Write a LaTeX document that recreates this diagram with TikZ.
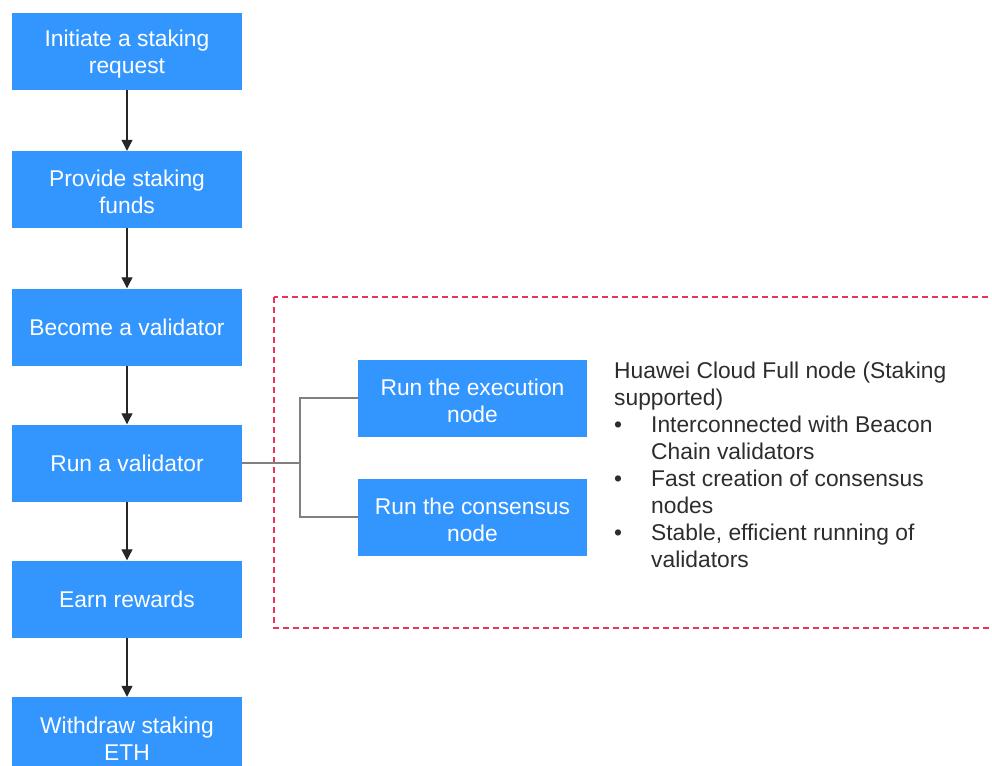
\documentclass[tikz,border=0pt]{standalone}
\usepackage{fontspec}
\setmainfont{Liberation Sans}
\usepackage{xcolor}
\usetikzlibrary{arrows.meta}
\definecolor{boxblue}{RGB}{51,150,255}
\definecolor{dashred}{RGB}{234,51,86}
\definecolor{txtgray}{RGB}{45,45,45}
\newcommand{\topgap}{\rule{0pt}{22pt}}

\begin{document}
\begin{tikzpicture}[x=1pt,y=-1pt,>={Triangle[width=11pt,length=11pt]},
flowbox/.style={fill=boxblue,text=white,minimum width=230pt,minimum height=77pt,inner sep=0pt,align=center,font=\fontsize{22.8}{27}\selectfont},
infotext/.style={text=txtgray,inner sep=0pt,align=left,anchor=north west,font=\fontsize{22.8}{27}\selectfont},
arr/.style={->,line width=1.2pt,draw=black!85},
link/.style={line width=1.2pt,draw=black!50},
dashbox/.style={dash pattern=on 6pt off 4pt,line width=1.6pt,draw=dashred}]
\clip (0,0) rectangle (992,765);
\draw[dashbox] (274,297) rectangle (1000,628);
\node[flowbox] (init) at (127,51.5) {\topgap Initiate a staking\\request};
\node[flowbox] (funds) at (127,189.5) {\topgap Provide staking\\funds};
\node[flowbox] (become) at (127,327) {Become a validator};
\node[flowbox] (run) at (127,463) {Run a validator};
\node[flowbox] (earn) at (127,599) {Earn rewards};
\node[flowbox] (withdraw) at (127,735.5) {\topgap Withdraw staking\\ETH};
\node[flowbox,minimum width=229pt] (exec) at (472.5,398) {\topgap Run the execution\\node};
\node[flowbox,minimum width=229pt] (cons) at (472.5,517) {\topgap Run the consensus\\node};
\coordinate (fork) at (300,463);
\draw[arr] (init) -- (funds);
\draw[arr] (funds) -- (become);
\draw[arr] (become) -- (run);
\draw[arr] (run) -- (earn);
\draw[arr] (earn) -- (withdraw);
\draw[link] (run.east) -- (fork);
\draw[link] (fork) |- (exec.west);
\draw[link] (fork) |- (cons.west);
\node[infotext] (info) at (614,361.4) {Huawei Cloud Full node (Staking\\
supported)\\
\makebox[37pt][l]{\textbullet}Interconnected with Beacon\\
\hspace*{37pt}Chain validators\\
\makebox[37pt][l]{\textbullet}Fast creation of consensus\\
\hspace*{37pt}nodes\\
\makebox[37pt][l]{\textbullet}Stable, efficient running of\\
\hspace*{37pt}validators};
\end{tikzpicture}
\end{document}
